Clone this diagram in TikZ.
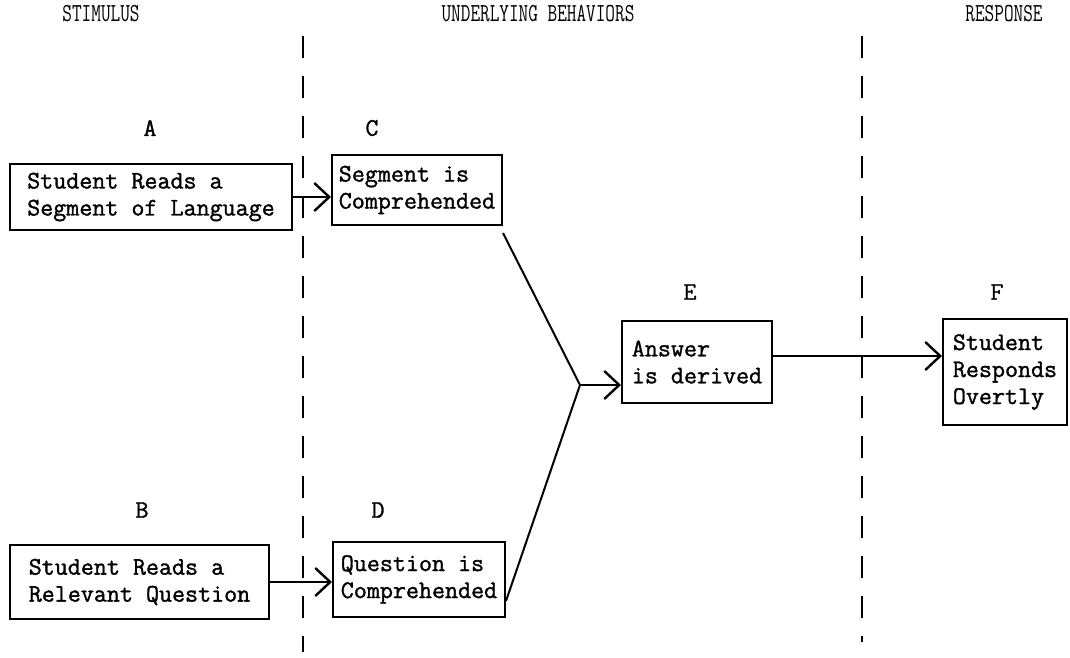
\documentclass[tikz,border=0pt]{standalone}
\usepackage{fontspec}
\newfontfamily\tw{Latin Modern Mono}[FakeBold=1.3]
\usetikzlibrary{arrows.meta,calc}
\begin{document}
\begin{tikzpicture}[x=1pt,y=-1pt,
  every node/.style={font=\fontsize{25.3}{27}\selectfont\tw},
  boxst/.style={draw,line width=2pt,align=left,inner sep=0pt},
  lbl/.style={font=\fontsize{25.3}{27}\selectfont\tw},
  hdr/.style={font=\fontsize{26}{27}\selectfont\ttfamily,xscale=0.72,transform shape},
  sep/.style={line width=2.2pt,dash pattern=on 22pt off 18pt},
  conn/.style={line width=2pt},
  arr/.style={line width=2pt,-{Straight Barb[length=15pt,width=28pt,line width=2.4pt]}}]
\useasboundingbox (0,0) rectangle (1070,658);
% headers
\node[hdr] (h1) at (101,14) {STIMULUS};
\node[hdr] (h2) at (538,14) {UNDERLYING BEHAVIORS};
\node[hdr] (h3) at (1004,14) {RESPONSE};
% separators
\draw[sep] (303,36) -- (303,652);
\draw[sep] (862,36) -- (862,642);
% labels
\node[lbl] (lA) at (150,128) {A};
\node[lbl] (lC) at (372,128) {C};
\node[lbl] (lB) at (142,510) {B};
\node[lbl] (lD) at (378,510) {D};
\node[lbl] (lE) at (690,292) {E};
\node[lbl] (lF) at (997,292) {F};
% boxes
\node[boxst,minimum width=282pt,minimum height=66pt] (A) at (151,197) {Student Reads a\\Segment of Language};
\node[boxst,minimum width=259pt,minimum height=74pt] (B) at (139.5,582) {Student Reads a\\Relevant Question};
\node[boxst,minimum width=170pt,minimum height=70pt] (C) at (417,190) {Segment is\\Comprehended};
\node[boxst,minimum width=172pt,minimum height=75pt] (D) at (419,579.5) {Question is\\Comprehended};
\node[boxst,minimum width=150pt,minimum height=82pt] (E) at (697,362) {Answer\\is derived};
\node[boxst,minimum width=124pt,minimum height=106pt] (F) at (1005,372) {Student\\Responds\\Overtly};
% connectors
\draw[arr] (A.east) -- (A.east -| C.west);
\draw[arr] (B.east) -- (B.east -| D.west);
\coordinate (m) at (580,385);
\draw[conn] ([yshift=-7pt]C.south east) -- (m);
\draw[conn] ([yshift=17pt]D.south east) -- (m);
\draw[arr] (m) -- (m -| E.west);
\draw[arr] ([yshift=6pt]E.east) -- ([yshift=6pt]E.east -| F.west);
\end{tikzpicture}
\end{document}
